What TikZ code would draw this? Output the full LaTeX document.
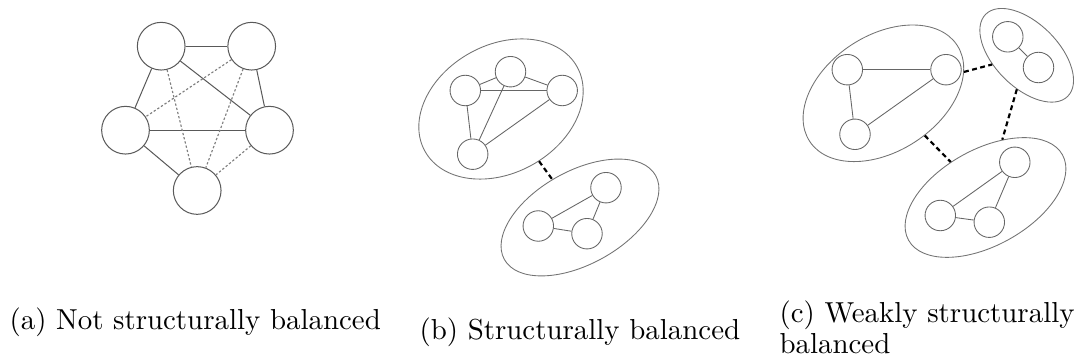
\documentclass[tikz,border=0pt]{standalone}
\usetikzlibrary{shapes.geometric}
\begin{document}
\begin{tikzpicture}[x=0.346pt,y=-0.346pt]
\tikzset{
  bignode/.style={circle, draw=black!65, line width=0.35pt, minimum size=47.7*0.346pt, inner sep=0pt},
  smallnode/.style={circle, draw=black!60, line width=0.3pt, minimum size=30.5*0.346pt, inner sep=0pt},
  grp/.style={ellipse, draw=black!55, line width=0.3pt, inner sep=0pt},
  posedge/.style={draw=black!65, line width=0.35pt},
  innedge/.style={draw=black!60, line width=0.3pt},
  negedge/.style={draw=black!50, line width=0.4pt, dash pattern=on 0.8pt off 0.7pt},
  link/.style={draw=black, line width=0.75pt, dash pattern=on 1.7pt off 1.2pt},
  captext/.style={anchor=base west, inner sep=0pt, font=\normalsize}
}
\useasboundingbox (0,0) rectangle (1078,362);

% ---------- (a) ----------
\node[bignode] (TL) at (161.2,46.2) {};
\node[bignode] (TR) at (251.7,46.2) {};
\node[bignode] (L)  at (125.5,130.2) {};
\node[bignode] (R)  at (269.5,130.2) {};
\node[bignode] (B)  at (197.2,190.5) {};
\draw[posedge] (TL) -- (TR);
\draw[posedge] (TL) -- (L);
\draw[posedge] (TL) -- (R);
\draw[posedge] (TR) -- (R);
\draw[posedge] (L) -- (R);
\draw[posedge] (L) -- (B);
\draw[negedge] (TL) -- (B);
\draw[negedge] (TR) -- (L);
\draw[negedge] (TR) -- (B);
\draw[negedge] (R) -- (B);

% ---------- (b) ----------
\node[grp, minimum width=174*0.346pt, minimum height=128*0.346pt, rotate=29] (G1) at (501,109) {};
\node[grp, minimum width=173*0.346pt, minimum height=93*0.346pt, rotate=29] (G2) at (580,217.5) {};
\node[smallnode] (n1) at (465.3,90.5) {};
\node[smallnode] (n2) at (510.5,71.7) {};
\node[smallnode] (n3) at (562.2,90.5) {};
\node[smallnode] (n4) at (472.7,154.2) {};
\node[smallnode] (m1) at (606,187.7) {};
\node[smallnode] (m2) at (538.3,226) {};
\node[smallnode] (m3) at (587,233.7) {};
\draw[innedge] (n1) -- (n2);
\draw[innedge] (n1) -- (n3);
\draw[innedge] (n2) -- (n3);
\draw[innedge] (n1) -- (n4);
\draw[innedge] (n2) -- (n4);
\draw[innedge] (n3) -- (n4);
\draw[innedge] (m1) -- (m2);
\draw[innedge] (m2) -- (m3);
\draw[innedge] (m3) -- (m1);
\draw[link] (G1) -- (G2);

% ---------- (c) ----------
\node[grp, minimum width=176*0.346pt, minimum height=116*0.346pt, rotate=33] (H1) at (883.4,93.3) {};
\node[grp, minimum width=116*0.346pt, minimum height=64*0.346pt, rotate=-45] (H2) at (1026.7,55.3) {};
\node[grp, minimum width=176*0.346pt, minimum height=96*0.346pt, rotate=29] (H3) at (985.5,197.5) {};
\node[smallnode] (c1) at (847.3,69.7) {};
\node[smallnode] (c2) at (946,69.7) {};
\node[smallnode] (c3) at (855,134.3) {};
\node[smallnode] (d1) at (1007.8,36.8) {};
\node[smallnode] (d2) at (1038.5,67.5) {};
\node[smallnode] (e1) at (1014.8,162.3) {};
\node[smallnode] (e2) at (940.3,215.5) {};
\node[smallnode] (e3) at (989.3,222.2) {};
\draw[innedge] (c1) -- (c2);
\draw[innedge] (c1) -- (c3);
\draw[innedge] (c2) -- (c3);
\draw[innedge] (d1) -- (d2);
\draw[innedge] (e1) -- (e2);
\draw[innedge] (e2) -- (e3);
\draw[innedge] (e3) -- (e1);
\draw[link] (H1) -- (H2);
\draw[link] (H2) -- (H3);
\draw[link] (H1) -- (H3);

% ---------- captions ----------
\node[captext] (capa) at (9,330) {(a) Not structurally balanced};
\node[captext] (capb) at (419,340) {(b) Structurally balanced};
\node[captext] (capc1) at (779,323) {(c) Weakly structurally};
\node[captext] (capc2) at (779,354) {balanced};
\end{tikzpicture}
\end{document}
